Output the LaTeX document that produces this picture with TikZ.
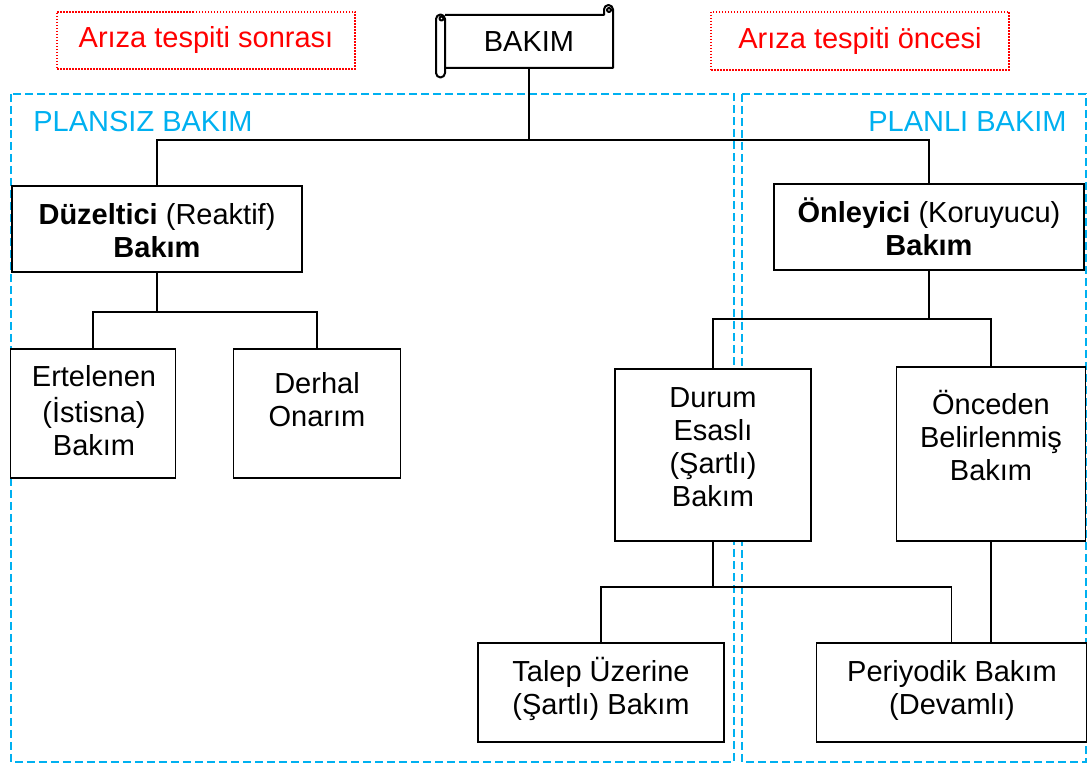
\documentclass[tikz,border=0pt]{standalone}
\usepackage{fontspec}
\setmainfont{Liberation Sans}
\usetikzlibrary{calc}
\definecolor{zoneblue}{HTML}{00B0F0}
% centred multi-line text whose baseline is the first line's baseline
\newcommand\rowsof[1]{\begin{tabular}[t]{@{}c@{}}#1\end{tabular}}

\begin{document}
\begin{tikzpicture}[x=0.5pt,y=-0.5pt,
  every node/.style={font=\fontsize{14.5pt}{16.5pt}\selectfont, inner sep=0pt},
  zone/.style={draw=zoneblue, line width=1pt, dash pattern=on 4pt off 2pt},
  zonetitle/.style={text=zoneblue},
  phase/.style={draw=red, text=red, line width=0.9pt, dash pattern=on 0.75pt off 0.75pt},
  box/.style={draw, fill=white, line width=0.9pt},
  link/.style={line width=0.9pt},
  scroll/.style={line width=1pt, line join=round}
]
\useasboundingbox (0,0) rectangle (1088,763);

% unplanned / planned zones
\draw[zone] (11,94) rectangle (734,762);
\draw[zone] (742,94) rectangle (1086,762);
\node[zonetitle, anchor=base west] (unplT) at (33,132) {PLANSIZ BAKIM};
\node[zonetitle, anchor=base east] (planT) at (1067,132) {PLANLI BAKIM};

% before / after failure tags
\node[phase, minimum width=149pt, minimum height=28.5pt] (after) at (206,40.5) {Arıza tespiti sonrası};
\node[phase, minimum width=149pt, minimum height=29pt] (before) at (860,41) {Arıza tespiti öncesi};

% scroll banner for the root
\draw[scroll] (445,15) -- (604,15) -- (604,9.5) arc[start angle=180,end angle=360,radius=4.5] -- (613,68) -- (445,68);
\draw[scroll] (609,10) circle[radius=2];
\draw[scroll, fill=white] (445,19) -- (445,73) arc[start angle=0,end angle=180,radius=4.5] -- (436,19) arc[start angle=180,end angle=360,radius=4.5] -- cycle;
\draw[scroll] (441.5,18.5) circle[radius=2];
\node[minimum width=84pt, minimum height=26.5pt] (bakim) at (529,41.5) {BAKIM};

% boxes
\node[box, minimum width=145pt, minimum height=43pt] (duz) at (157,229) {};
\node[box, minimum width=155pt, minimum height=43pt] (onl) at (929,227) {};
\node[box, minimum width=82.5pt, minimum height=64.5pt] (ert) at (93,413.5) {};
\node[box, minimum width=83.5pt, minimum height=64.5pt] (der) at (317,413.5) {};
\node[box, minimum width=98pt, minimum height=86pt] (dur) at (713,455) {};
\node[box, minimum width=94.5pt, minimum height=87pt] (onc) at (991,454) {};
\node[box, minimum width=123pt, minimum height=49.5pt] (tal) at (601,692.5) {};
\node[box, minimum width=135pt, minimum height=49.5pt] (per) at (951.5,692.5) {};

% box texts
\node[anchor=base] (duzT) at (157,225) {\rowsof{\textbf{Düzeltici} (Reaktif)\\\textbf{Bakım}}};
\node[anchor=base] (onlT) at (929,223) {\rowsof{\textbf{Önleyici} (Koruyucu)\\\textbf{Bakım}}};
\node[anchor=base] (ertT) at (94,387) {\rowsof{Ertelenen\\(İstisna)\\Bakım}};
\node[anchor=base] (derT) at (317,394) {\rowsof{Derhal\\Onarım}};
\node[anchor=base] (durT) at (713,408) {\rowsof{Durum\\Esaslı\\(Şartlı)\\Bakım}};
\node[anchor=base] (oncT) at (991,415) {\rowsof{Önceden\\Belirlenmiş\\Bakım}};
\node[anchor=base] (talT) at (601,682) {\rowsof{Talep Üzerine\\(Şartlı) Bakım}};
\node[anchor=base] (perT) at (952,682) {\rowsof{Periyodik Bakım\\(Devamlı)}};

% tree connectors
\coordinate (busA) at (0,140);
\coordinate (busB) at (0,312);
\coordinate (busC) at (0,319);
\coordinate (busD) at (0,587);
\draw[link] (bakim.south) -- (bakim.south |- busA) -| (duz.north);
\draw[link] (bakim.south |- busA) -| (onl.north);
\draw[link] (duz.south) -- (duz.south |- busB) -| (ert.north);
\draw[link] (duz.south |- busB) -| (der.north);
\draw[link] (onl.south) -- (onl.south |- busC) -| (dur.north);
\draw[link] (onl.south |- busC) -| (onc.north);
\draw[link] (dur.south) -- (dur.south |- busD) -| (tal.north);
\draw[link] (dur.south |- busD) -| (per.north);
\draw[link] (onc.south) -- (onc.south |- per.north);
\end{tikzpicture}
\end{document}
